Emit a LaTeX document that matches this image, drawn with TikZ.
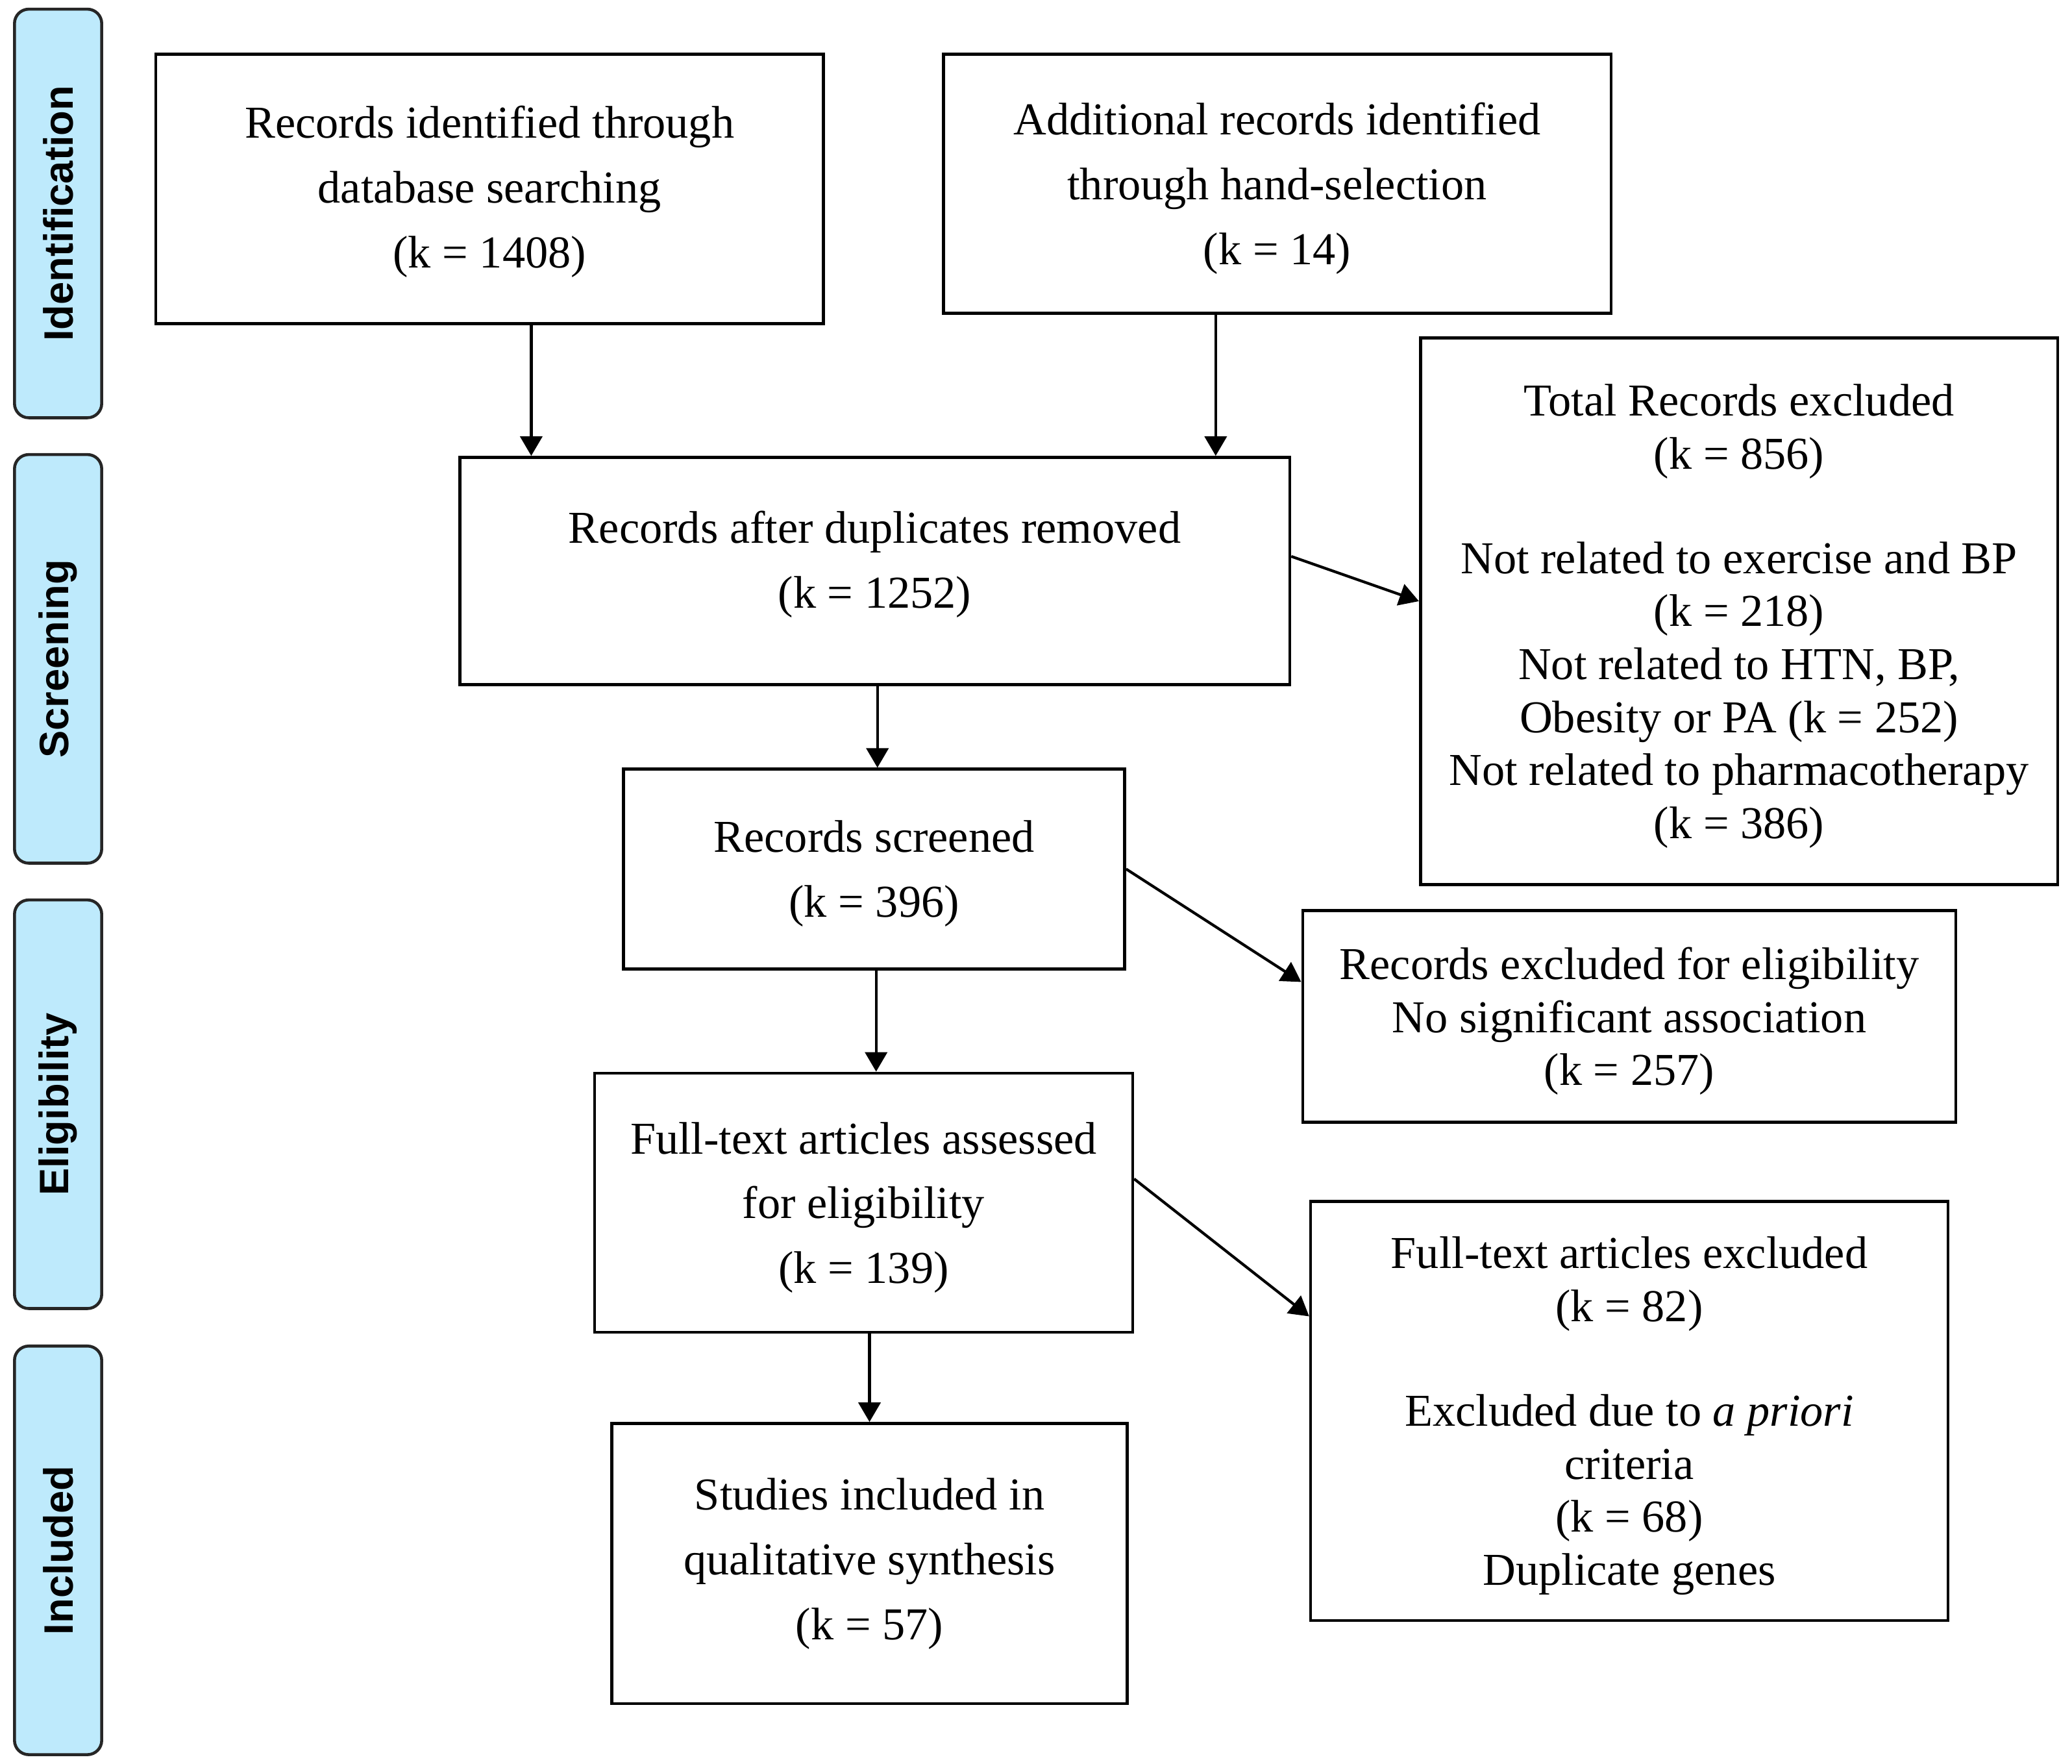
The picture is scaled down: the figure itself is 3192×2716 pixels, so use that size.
\documentclass[tikz,border=0pt]{standalone}
\usepackage{fontspec}
\setmainfont{Liberation Serif}
\newfontfamily\labelfont{Liberation Sans}
\usetikzlibrary{arrows.meta}
\definecolor{phase}{RGB}{190,234,252}
\begin{document}
\begin{tikzpicture}[x=0.01cm,y=-0.01cm,
 box/.style={draw=black, line width=1.3pt, fill=white, align=center, inner sep=0pt},
 wide/.style={font=\fontsize{20}{28.4}\selectfont},
 tight/.style={font=\fontsize{20}{23.2}\selectfont},
 phaselabel/.style={draw=black!85, line width=1.3pt, fill=phase, rounded corners=0.22cm, rotate=90, minimum width=6.29cm, minimum height=1.343cm, inner sep=0pt, font=\labelfont\bfseries\fontsize{18}{20}\selectfont},
 arr/.style={line width=1.2pt, -{Triangle[length=0.3cm,width=0.34cm]}}]
\useasboundingbox (0,0) rectangle (3192,2716);

\node[phaselabel] (p1) at (89.5,328.8) {Identification};
\node[phaselabel] (p2) at (89.5,1014.8) {Screening};
\node[phaselabel] (p3) at (89.5,1700.8) {Eligibility};
\node[phaselabel] (p4) at (89.5,2387.9) {Included};

\node[box,wide,text depth=2.1pt,minimum width=10.28cm,minimum height=4.15cm] (A) at (754.2,291.1) {Records identified through\\database searching\\(k = 1408)};
\node[box,wide,text depth=-14pt,minimum width=10.28cm,minimum height=3.99cm] (B) at (1967.5,283) {Additional records identified\\through hand-selection\\(k = 14)};
\node[box,wide,text depth=10pt,minimum width=12.78cm,minimum height=3.50cm] (C) at (1347.6,879.5) {Records after duplicates removed\\(k = 1252)};
\node[box,tight,text depth=-5.8pt,minimum width=9.81cm,minimum height=8.41cm] (D) at (2679,941.5) {Total Records excluded\\(k = 856)\\[22.6pt]Not related to exercise and BP\\(k = 218)\\Not related to HTN, BP,\\Obesity or PA (k = 252)\\Not related to pharmacotherapy\\(k = 386)};
\node[box,wide,text depth=-2.5pt,minimum width=7.715cm,minimum height=3.074cm] (E) at (1346.6,1338.5) {Records screened\\(k = 396)};
\node[box,tight,text depth=-5.8pt,minimum width=10.056cm,minimum height=3.257cm] (F) at (2510,1565.5) {Records excluded for eligibility\\No significant association\\(k = 257)};
\node[box,wide,text depth=-6.9pt,minimum width=8.285cm,minimum height=3.99cm] (G) at (1330.4,1852.5) {Full-text articles assessed\\for eligibility\\(k = 139)};
\node[box,tight,text depth=-16.1pt,minimum width=9.812cm,minimum height=6.453cm] (H) at (2510,2173.2) {Full-text articles excluded\\(k = 82)\\[22.6pt]Excluded due to \textit{a priori}\\criteria\\(k = 68)\\Duplicate genes};
\node[box,wide,minimum width=7.94cm,minimum height=4.315cm] (I) at (1339.5,2408.3) {Studies included in\\qualitative synthesis\\(k = 57)};

\coordinate (xa) at (818.4,0);
\coordinate (xb) at (1872.8,0);
\coordinate (xc) at (1351.7,0);
\coordinate (xe) at (1349.7,0);
\coordinate (xg) at (1339.5,0);

\draw[arr] (A.south -| xa) -- (C.north -| xa);
\draw[arr] (B.south -| xb) -- (C.north -| xb);
\draw[arr] ([yshift=0.225cm]C.east) -- ([yshift=0.155cm]D.west);
\draw[arr] (C.south -| xc) -- (E.north -| xc);
\draw[arr] (E.east) -- ([yshift=0.53cm]F.west);
\draw[arr] (E.south -| xe) -- (G.north -| xe);
\draw[arr] ([yshift=0.367cm]G.east) -- ([yshift=1.456cm]H.west);
\draw[arr] (G.south -| xg) -- (I.north -| xg);
\end{tikzpicture}
\end{document}
